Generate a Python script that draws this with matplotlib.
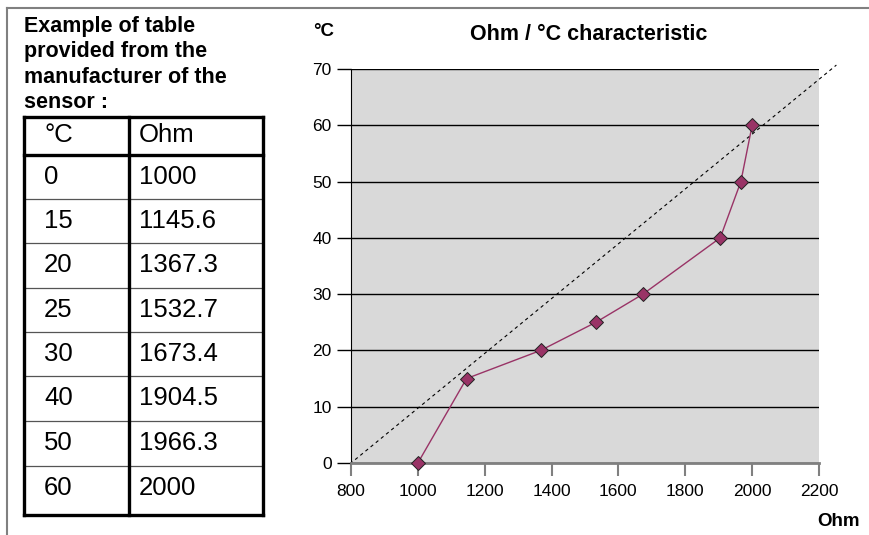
import matplotlib.pyplot as plt

plt.rcParams['font.family'] = ['Liberation Sans', 'DejaVu Sans']

# sensor table data
deg_c = [0, 15, 20, 25, 30, 40, 50, 60]
ohm = [1000, 1145.6, 1367.3, 1532.7, 1673.4, 1904.5, 1966.3, 2000]
ohm_labels = ['1000', '1145.6', '1367.3', '1532.7', '1673.4', '1904.5', '1966.3', '2000']

# dashed reference line
ref_x = [797, 2252]
ref_y = [-0.15, 70.7]

x_ticks = [800, 1000, 1200, 1400, 1600, 1800, 2000, 2200]
y_ticks = [0, 10, 20, 30, 40, 50, 60, 70]

W, H = 869, 535
fig = plt.figure(figsize=(W / 100, H / 100), dpi=100)

# overlay in pixel units for frame and table
bg = fig.add_axes([0, 0, 1, 1])
bg.set_xlim(0, W)
bg.set_ylim(H, 0)
bg.axis('off')
bg.plot([7, W], [8, 8], color='#808080', lw=1.5)
bg.plot([7, 7], [8, H], color='#808080', lw=1.5)

bg.text(24, 16, 'Example of table\nprovided from the\nmanufacturer of the\nsensor :',
        fontsize=15.5, fontweight='bold', va='top', ha='left', linespacing=1.28)

t_left, t_mid, t_right = 24, 129, 263
row_y = [117, 155, 199, 243, 288, 332, 376, 421, 466, 515]
for y in row_y[2:-1]:
    bg.plot([t_left, t_right], [y, y], color='#555555', lw=0.9)
for y in (row_y[0], row_y[1], row_y[-1]):
    bg.plot([t_left, t_right], [y, y], color='black', lw=2.4, solid_capstyle='projecting')
for x in (t_left, t_mid, t_right):
    bg.plot([x, x], [row_y[0], row_y[-1]], color='black', lw=2.4, solid_capstyle='projecting')

bg.text(45, 135, '°C', fontsize=18.5, va='center', ha='left')
bg.text(139, 135, 'Ohm', fontsize=18.5, va='center', ha='left')
for i in range(len(deg_c)):
    yc = row_y[i + 1] + 22
    bg.text(44, yc, str(deg_c[i]), fontsize=18.5, va='center', ha='left')
    bg.text(139, yc, ohm_labels[i], fontsize=18.5, va='center', ha='left')

# chart
ax = fig.add_axes([351 / W, 1 - 463 / H, (819 - 351) / W, (463 - 69) / H])
ax.set_facecolor('#d9d9d9')
ax.set_xlim(800, 2200)
ax.set_ylim(0, 70)
ax.set_xticks(x_ticks)
ax.set_yticks(y_ticks)
ax.yaxis.grid(True, color='black', lw=1)
ax.set_axisbelow(True)
for s in ('top', 'right'):
    ax.spines[s].set_visible(False)
ax.spines['left'].set_color('black')
ax.spines['bottom'].set_color('#808080')
ax.spines['bottom'].set_linewidth(2)
ax.tick_params(axis='y', direction='out', length=10, width=1, colors='black', labelsize=12.5, pad=4)
ax.tick_params(axis='x', direction='out', length=9, width=1.5, color='#808080', labelcolor='black',
               labelsize=12.5, pad=6)

ax.plot(ref_x, ref_y, color='black', lw=0.8, ls=(0, (3, 3)), clip_on=False)
ax.plot(ohm, deg_c, color='#993366', lw=1, marker='D', markersize=7,
        markerfacecolor='#993366', markeredgecolor='#222222', markeredgewidth=0.7, clip_on=False, zorder=3)

fig.text(313 / W, 1 - 32 / H, '°C', fontsize=13.5, fontweight='bold', va='center', ha='left')
fig.text(589 / W, 1 - 35 / H, 'Ohm / °C characteristic', fontsize=15.5, fontweight='bold',
         va='center', ha='center')
fig.text(860 / W, 1 - 522 / H, 'Ohm', fontsize=13.5, fontweight='bold', va='center', ha='right')

fig.savefig('out.png', dpi=100)
